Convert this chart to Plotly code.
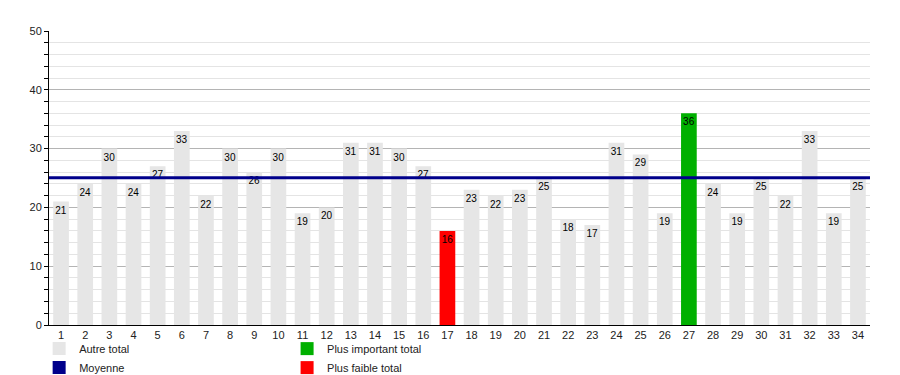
import plotly.graph_objects as go

categories = [str(i) for i in range(1, 35)]
values = [21, 24, 30, 24, 27, 33, 22, 30, 26, 30, 19, 20, 31, 31, 30, 27, 16,
          23, 22, 23, 25, 18, 17, 31, 29, 19, 36, 24, 19, 25, 22, 33, 19, 25]
y_ticks = [0, 10, 20, 30, 40, 50]

GRAY = "#e6e6e6"
GREEN = "#00b000"
RED = "#ff0000"
NAVY = "#00008b"

vmax, vmin = max(values), min(values)
mean_val = sum(values) / len(values)
colors = [GREEN if v == vmax else RED if v == vmin else GRAY for v in values]

fig = go.Figure()
fig.add_trace(go.Bar(
    x=categories, y=values, marker=dict(color=colors, line=dict(width=0)),
    text=[str(v) for v in values], textposition="inside", insidetextanchor="end",
    textangle=0, textfont=dict(size=10, color="#000000"), constraintext="none",
    width=0.65, showlegend=False, hoverinfo="x+y",
))
fig.add_shape(type="line", xref="paper", x0=0, x1=1, yref="y", y0=mean_val, y1=mean_val,
              line=dict(color=NAVY, width=3), layer="above")

legend_items = [
    ("Autre total", GRAY, "legend"),
    ("Moyenne", NAVY, "legend"),
    ("Plus important total", GREEN, "legend2"),
    ("Plus faible total", RED, "legend2"),
]
for name, col, lg in legend_items:
    fig.add_trace(go.Scatter(
        x=[None], y=[None], mode="markers", name=name,
        marker=dict(symbol="square", size=13, color=col),
        legend=lg, showlegend=True,
    ))

legend_common = dict(
    orientation="v", yanchor="top", xanchor="left",
    font=dict(size=11, color="#222222", family="Liberation Sans, Arial, sans-serif"),
    bgcolor="rgba(0,0,0,0)", tracegroupgap=0, itemwidth=30,
)

fig.update_layout(
    width=900, height=375,
    margin=dict(l=49, r=30, t=31, b=50, autoexpand=False),
    paper_bgcolor="white", plot_bgcolor="white",
    font=dict(family="Liberation Sans, Arial, sans-serif", size=11, color="#222222"),
    legend=dict(x=-0.012, y=-0.031, **legend_common),
    legend2=dict(x=0.29, y=-0.031, **legend_common),
    xaxis=dict(
        type="category", showline=True, linecolor="#000000", linewidth=1,
        ticks="", showgrid=False, tickfont=dict(size=11, color="#222222"),
        range=[-0.5, 33.5], fixedrange=True,
    ),
    yaxis=dict(
        range=[0, 50], tickvals=y_ticks, showline=True, linecolor="#000000", linewidth=1,
        ticks="outside", ticklen=4, tickcolor="#000000",
        showgrid=True, gridcolor="#b4b4b4", gridwidth=1,
        minor=dict(dtick=2, showgrid=True, gridcolor="#e4e4e4", ticks="outside",
                   ticklen=4, tickcolor="#000000"),
        tickfont=dict(size=11, color="#222222"), zeroline=False, fixedrange=True,
    ),
)

fig.write_html("out.html", config={"displayModeBar": False},
               post_script="document.body.style.margin='0';document.body.style.overflow='hidden';")
